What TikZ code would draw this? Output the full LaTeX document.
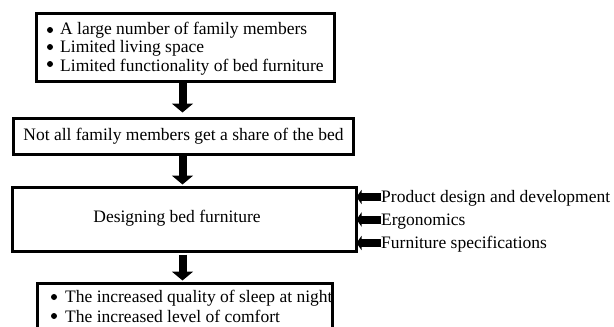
\documentclass[tikz,border=0pt]{standalone}
\usepackage{fontspec}
\setmainfont{Liberation Serif}
\usetikzlibrary{arrows.meta,calc}
\tikzset{
  box/.style={draw=black, line width=3pt, inner sep=0pt, outer sep=0pt, rectangle},
  txt/.style={inner sep=0pt, font=\fontsize{17.5}{20}\selectfont, anchor=base west},
  ctxt/.style={inner sep=0pt, font=\fontsize{17.5}{20}\selectfont},
  blk/.style={line width=8pt, -{Triangle[width=21pt,length=9pt]}},
  sideblk/.style={line width=8pt, -{Triangle[width=14pt,length=5pt]}},
  bul/.style={circle, fill=black, inner sep=0pt, minimum size=6pt}
}
\begin{document}
\begin{tikzpicture}[x=1pt,y=-1pt]
\useasboundingbox (0,0) rectangle (614,327);
\clip (0,0) rectangle (614,327);
% boxes
\node[box, minimum width=297.5pt, minimum height=68pt] (b1) at (185.25,47) {};
\node[box, minimum width=340pt, minimum height=36pt] (b2) at (183.5,136.5) {};
\node[box, minimum width=344pt, minimum height=64pt] (b3) at (184.5,219.5) {};
\node[box, minimum width=295pt, minimum height=46pt] (b4) at (185,306.5) {};
% box 1 content
\node[bul] (p1) at (50,30) {};
\node[bul] (p2) at (50,47) {};
\node[bul] (p3) at (50,64) {};
\node[txt] (t1) at (60,34.5) {A large number of family members};
\node[txt] (t2) at (60,52) {Limited living space};
\node[txt] (t3) at (60,71.5) {Limited functionality of bed furniture};
% box 2 / 3 content
\node[ctxt] (t4) at (b2.center) {Not all family members get a share of the bed};
\node[ctxt] (t5) at (177,218) {Designing bed furniture};
% side inputs
\node[txt] (s1) at (381,202.5) {Product design and development};
\node[txt] (s2) at (381,225) {Ergonomics};
\node[txt] (s3) at (381,248.5) {Furniture specifications};
% box 4 content
\node[bul] (q1) at (54,297) {};
\node[bul] (q2) at (54,316) {};
\node[txt] (t6) at (65,302.5) {The increased quality of sleep at night};
\node[txt] (t7) at (65,322) {The increased level of comfort};
% main arrows
\draw[blk] ($(b1.south)+(-2.75,2)$) -- ($(b2.north)+(-1,-6)$);
\draw[blk] ($(b2.south)+(-1,1.5)$) -- ($(b3.north)+(-2,-3)$);
\draw[blk] ($(b3.south)+(-2,3)$) -- ($(b4.north)+(-2.5,-3)$);
% side arrows
\coordinate (a1) at (s1.west |- 0,197);
\coordinate (a2) at (s2.west |- 0,219.5);
\coordinate (a3) at (s3.west |- 0,243);
\draw[sideblk] (a1) -- (a1 -| b3.east);
\draw[sideblk] (a2) -- (a2 -| b3.east);
\draw[sideblk] (a3) -- (a3 -| b3.east);
\end{tikzpicture}
\end{document}
